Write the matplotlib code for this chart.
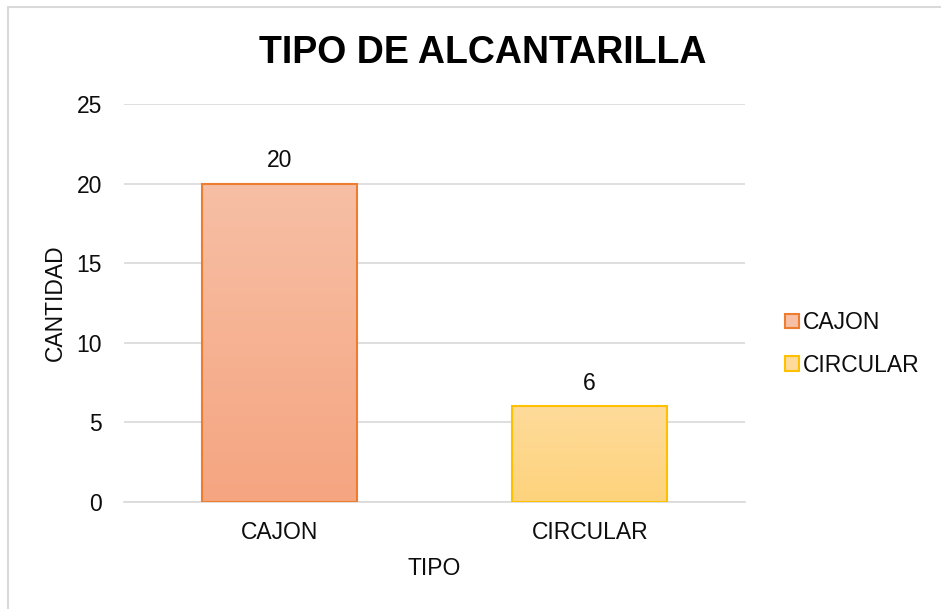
import numpy as np
import matplotlib

matplotlib.use('Agg')

import matplotlib.pyplot as plt
from matplotlib.colors import LinearSegmentedColormap
from matplotlib.patches import Rectangle

plt.rcParams['font.family'] = ['Liberation Sans', 'DejaVu Sans']

categories = ['CAJON', 'CIRCULAR']
counts = [20, 6]
edge_colors = ['#ED7D31', '#FFC000']
top_colors = ['#F7BFA5', '#FEDB9A']
bottom_colors = ['#F5A580', '#FED37C']
yticks = [0, 5, 10, 15, 20, 25]

FS = 16.5
TXT = '#0D0D0D'

fig = plt.figure(figsize=(9.41, 6.09), dpi=100)
ax = fig.add_axes([0.1318, 0.1757, 0.6599, 0.6535])

# chart frame
fig.patches.append(Rectangle((0.0080, -0.01), 1.0, 0.998, transform=fig.transFigure,
                             fill=False, edgecolor='#D9D9D9', linewidth=1.5))

x = np.arange(len(categories))
bars = ax.bar(x, counts, width=0.5, color='none', edgecolor=edge_colors,
              linewidth=1.5, zorder=3)

for bar, c_top, c_bot in zip(bars, top_colors, bottom_colors):
    cmap = LinearSegmentedColormap.from_list('grad', [c_bot, c_top])
    x0, y0 = bar.get_x(), bar.get_y()
    w, h = bar.get_width(), bar.get_height()
    grad = np.linspace(0, 1, 256).reshape(-1, 1)
    im = ax.imshow(grad, cmap=cmap, origin='lower', aspect='auto',
                   extent=[x0, x0 + w, y0, y0 + h], zorder=2)
    im.set_clip_path(bar)
    ax.annotate(str(int(h)), (x0 + w / 2, h), xytext=(0, 12),
                textcoords='offset points', ha='center', va='baseline',
                fontsize=FS, color=TXT)

ax.set_xlim(-0.5, 1.5)
ax.set_ylim(0, 25)
ax.set_xticks(x)
ax.set_xticklabels(categories)
ax.set_yticks(yticks)
ax.tick_params(axis='both', length=0, labelsize=FS, colors=TXT)
ax.tick_params(axis='x', pad=14)
ax.tick_params(axis='y', pad=16)
ax.yaxis.grid(True, color='#D9D9D9', linewidth=1.2, zorder=0)
ax.set_axisbelow(True)
for side in ['top', 'right', 'left']:
    ax.spines[side].set_visible(False)
ax.spines['bottom'].set_color('#D9D9D9')
ax.spines['bottom'].set_linewidth(1.2)

ax.set_xlabel('TIPO', fontsize=FS, color=TXT, labelpad=9)
ax.set_ylabel('CANTIDAD', fontsize=FS, color=TXT, labelpad=7)
fig.text(0.513, 1 - 63 / 609, 'TIPO DE ALCANTARILLA', ha='center', va='baseline',
         fontsize=27, fontweight='bold', color='black')

handles = [Rectangle((0, 0), 1, 1, facecolor=ct, edgecolor=ec, linewidth=1.5)
           for ct, ec in zip(top_colors, edge_colors)]
fig.legend(handles, categories, loc='center left', bbox_to_anchor=(0.8342, 0.4351),
           frameon=False, fontsize=FS, handlelength=0.6, handleheight=0.6,
           handletextpad=0.2, labelspacing=0.85, borderpad=0, borderaxespad=0,
           labelcolor=TXT)

fig.savefig('out.png', dpi=100)
